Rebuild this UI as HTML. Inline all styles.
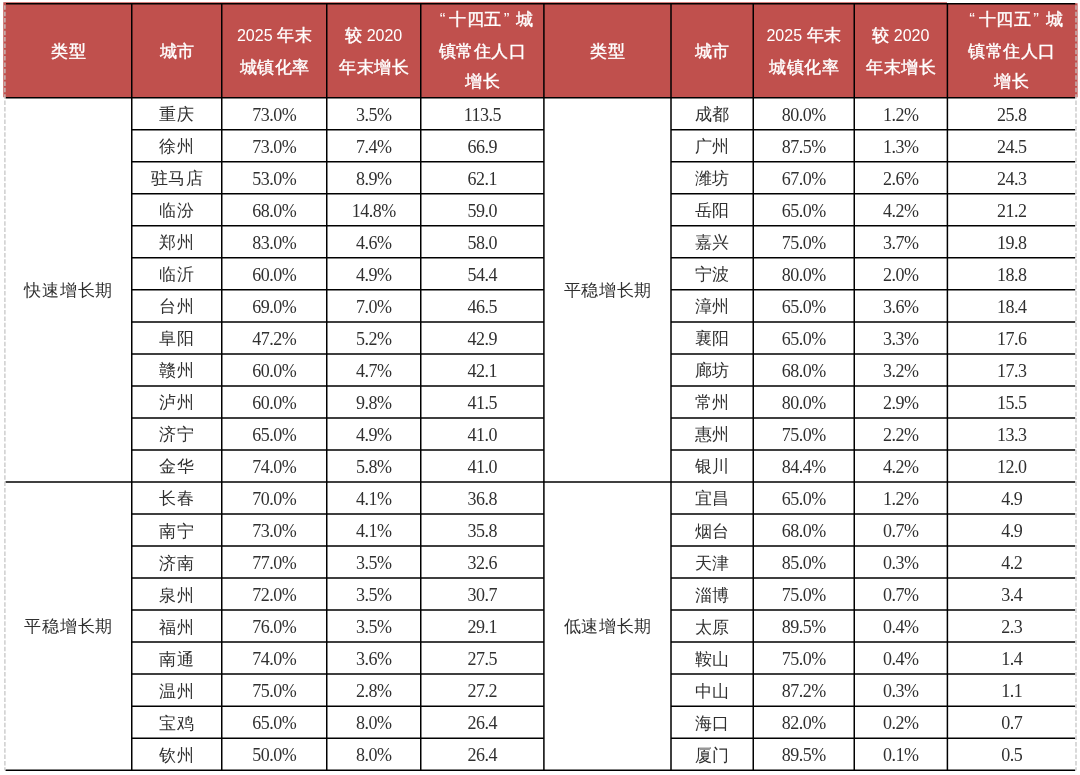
<!DOCTYPE html>
<html lang="zh"><head><meta charset="utf-8"><title>table</title>
<style>
html,body{margin:0;padding:0;background:#fff;}
body{width:1080px;height:775px;position:relative;overflow:hidden;font-family:"Liberation Serif",serif;color:#303030;}
#t{position:absolute;left:0;top:0;width:1080px;height:775px;will-change:transform;}
svg{position:absolute;left:0;top:0;}
.c{position:absolute;text-align:center;white-space:nowrap;height:32px;line-height:32px;font-size:18px;letter-spacing:-0.5px;}
.z{font-size:16.5px;letter-spacing:0.7px;text-indent:0.7px;}
.h{position:absolute;text-align:center;white-space:nowrap;height:32px;line-height:32px;font-size:16px;color:#fff;font-family:"Liberation Sans",sans-serif;}
.h b{font-weight:normal;font-size:17px;letter-spacing:0.5px;margin-right:-0.5px;-webkit-text-stroke:0.4px #fff;}
.h i{font-style:normal;display:inline-block;font-size:17px;}
.h i.l{width:8px;text-align:left;margin-right:1.5px;}
.h i.r{width:12.5px;text-align:left;margin-left:2.5px;}
</style></head><body>


<svg width="1080" height="775" viewBox="0 0 1080 775">
<path d="M3.3 2.3 H947 V3.2 H1077.6 V97.3 H3.3 Z" fill="#c0504d"/>
<g stroke="#000" stroke-width="1.5" fill="none">
<path d="M6 3.8 H1075.2"/>
<path d="M5.5 97.75 H1075.2"/>
<path d="M5.5 481.99 H1075.2"/>
<path d="M5.5 770.17 H1075.2"/>
<path d="M131.75 129.77 H543.9 M671 129.77 H1075.2 M131.75 161.79 H543.9 M671 161.79 H1075.2 M131.75 193.81 H543.9 M671 193.81 H1075.2 M131.75 225.83 H543.9 M671 225.83 H1075.2 M131.75 257.85 H543.9 M671 257.85 H1075.2 M131.75 289.87 H543.9 M671 289.87 H1075.2 M131.75 321.89 H543.9 M671 321.89 H1075.2 M131.75 353.91 H543.9 M671 353.91 H1075.2 M131.75 385.93 H543.9 M671 385.93 H1075.2 M131.75 417.95 H543.9 M671 417.95 H1075.2 M131.75 449.97 H543.9 M671 449.97 H1075.2 M131.75 514.01 H543.9 M671 514.01 H1075.2 M131.75 546.03 H543.9 M671 546.03 H1075.2 M131.75 578.05 H543.9 M671 578.05 H1075.2 M131.75 610.07 H543.9 M671 610.07 H1075.2 M131.75 642.09 H543.9 M671 642.09 H1075.2 M131.75 674.11 H543.9 M671 674.11 H1075.2 M131.75 706.13 H543.9 M671 706.13 H1075.2 M131.75 738.15 H543.9 M671 738.15 H1075.2"/>
<path d="M131.75 3.8 V770.17 M221.75 3.8 V770.17 M326.75 3.8 V770.17 M420.75 3.8 V770.17 M543.9 3.8 V770.17 M671 3.8 V770.17 M753.25 3.8 V770.17 M854.25 3.8 V770.17 M947.4 3.8 V770.17"/>
</g>
<g stroke="#c6c6c6" stroke-width="1.3" stroke-dasharray="4.5 1.85" stroke-dashoffset="-1.5" fill="none">
<path d="M4.9 3.8 V770.17 M1076 3.8 V770.17"/>
</g>
</svg>
<div id="t">
<div class="h" style="left:4.9px;top:36.4px;width:126.85px"><b>类型</b></div>
<div class="h" style="left:131.75px;top:36.4px;width:90px"><b>城市</b></div>
<div class="h" style="left:221.75px;top:20.4px;width:105px">2025 <b>年末</b></div>
<div class="h" style="left:221.75px;top:52px;width:105px"><b>城镇化率</b></div>
<div class="h" style="left:326.75px;top:20.4px;width:94px"><b>较</b> 2020</div>
<div class="h" style="left:326.75px;top:52px;width:94px"><b>年末增长</b></div>
<div class="h" style="left:424.95px;top:4.4px;width:123.15px"><i class="l">“</i><b>十四五</b><i class="r">”</i><b>城</b></div>
<div class="h" style="left:420.75px;top:35.6px;width:123.15px"><b>镇常住人口</b></div>
<div class="h" style="left:420.75px;top:66.4px;width:123.15px"><b>增长</b></div>
<div class="h" style="left:543.9px;top:36.4px;width:127.1px"><b>类型</b></div>
<div class="h" style="left:671px;top:36.4px;width:82.25px"><b>城市</b></div>
<div class="h" style="left:753.25px;top:20.4px;width:101px">2025 <b>年末</b></div>
<div class="h" style="left:753.25px;top:52px;width:101px"><b>城镇化率</b></div>
<div class="h" style="left:854.25px;top:20.4px;width:93.15px"><b>较</b> 2020</div>
<div class="h" style="left:854.25px;top:52px;width:93.15px"><b>年末增长</b></div>
<div class="h" style="left:951.6px;top:4.4px;width:128.6px"><i class="l">“</i><b>十四五</b><i class="r">”</i><b>城</b></div>
<div class="h" style="left:947.4px;top:35.6px;width:128.6px"><b>镇常住人口</b></div>
<div class="h" style="left:947.4px;top:66.4px;width:128.6px"><b>增长</b></div>
<div class="c z" style="left:4.9px;top:274.87px;width:126.85px">快速增长期</div>
<div class="c z" style="left:4.9px;top:611.08px;width:126.85px">平稳增长期</div>
<div class="c z" style="left:543.9px;top:274.87px;width:127.1px">平稳增长期</div>
<div class="c z" style="left:543.9px;top:611.08px;width:127.1px">低速增长期</div>
<div class="c z" style="left:131.75px;top:99.25px;width:90px">重庆</div>
<div class="c" style="left:221.75px;top:98.75px;width:105px">73.0%</div>
<div class="c" style="left:326.75px;top:98.75px;width:94px">3.5%</div>
<div class="c" style="left:420.75px;top:98.75px;width:123.15px">113.5</div>
<div class="c z" style="left:671px;top:99.25px;width:82.25px">成都</div>
<div class="c" style="left:753.25px;top:98.75px;width:101px">80.0%</div>
<div class="c" style="left:854.25px;top:98.75px;width:93.15px">1.2%</div>
<div class="c" style="left:947.4px;top:98.75px;width:128.6px">25.8</div>
<div class="c z" style="left:131.75px;top:131.27px;width:90px">徐州</div>
<div class="c" style="left:221.75px;top:130.77px;width:105px">73.0%</div>
<div class="c" style="left:326.75px;top:130.77px;width:94px">7.4%</div>
<div class="c" style="left:420.75px;top:130.77px;width:123.15px">66.9</div>
<div class="c z" style="left:671px;top:131.27px;width:82.25px">广州</div>
<div class="c" style="left:753.25px;top:130.77px;width:101px">87.5%</div>
<div class="c" style="left:854.25px;top:130.77px;width:93.15px">1.3%</div>
<div class="c" style="left:947.4px;top:130.77px;width:128.6px">24.5</div>
<div class="c z" style="left:131.75px;top:163.29px;width:90px">驻马店</div>
<div class="c" style="left:221.75px;top:162.79px;width:105px">53.0%</div>
<div class="c" style="left:326.75px;top:162.79px;width:94px">8.9%</div>
<div class="c" style="left:420.75px;top:162.79px;width:123.15px">62.1</div>
<div class="c z" style="left:671px;top:163.29px;width:82.25px">潍坊</div>
<div class="c" style="left:753.25px;top:162.79px;width:101px">67.0%</div>
<div class="c" style="left:854.25px;top:162.79px;width:93.15px">2.6%</div>
<div class="c" style="left:947.4px;top:162.79px;width:128.6px">24.3</div>
<div class="c z" style="left:131.75px;top:195.31px;width:90px">临汾</div>
<div class="c" style="left:221.75px;top:194.81px;width:105px">68.0%</div>
<div class="c" style="left:326.75px;top:194.81px;width:94px">14.8%</div>
<div class="c" style="left:420.75px;top:194.81px;width:123.15px">59.0</div>
<div class="c z" style="left:671px;top:195.31px;width:82.25px">岳阳</div>
<div class="c" style="left:753.25px;top:194.81px;width:101px">65.0%</div>
<div class="c" style="left:854.25px;top:194.81px;width:93.15px">4.2%</div>
<div class="c" style="left:947.4px;top:194.81px;width:128.6px">21.2</div>
<div class="c z" style="left:131.75px;top:227.33px;width:90px">郑州</div>
<div class="c" style="left:221.75px;top:226.83px;width:105px">83.0%</div>
<div class="c" style="left:326.75px;top:226.83px;width:94px">4.6%</div>
<div class="c" style="left:420.75px;top:226.83px;width:123.15px">58.0</div>
<div class="c z" style="left:671px;top:227.33px;width:82.25px">嘉兴</div>
<div class="c" style="left:753.25px;top:226.83px;width:101px">75.0%</div>
<div class="c" style="left:854.25px;top:226.83px;width:93.15px">3.7%</div>
<div class="c" style="left:947.4px;top:226.83px;width:128.6px">19.8</div>
<div class="c z" style="left:131.75px;top:259.35px;width:90px">临沂</div>
<div class="c" style="left:221.75px;top:258.85px;width:105px">60.0%</div>
<div class="c" style="left:326.75px;top:258.85px;width:94px">4.9%</div>
<div class="c" style="left:420.75px;top:258.85px;width:123.15px">54.4</div>
<div class="c z" style="left:671px;top:259.35px;width:82.25px">宁波</div>
<div class="c" style="left:753.25px;top:258.85px;width:101px">80.0%</div>
<div class="c" style="left:854.25px;top:258.85px;width:93.15px">2.0%</div>
<div class="c" style="left:947.4px;top:258.85px;width:128.6px">18.8</div>
<div class="c z" style="left:131.75px;top:291.37px;width:90px">台州</div>
<div class="c" style="left:221.75px;top:290.87px;width:105px">69.0%</div>
<div class="c" style="left:326.75px;top:290.87px;width:94px">7.0%</div>
<div class="c" style="left:420.75px;top:290.87px;width:123.15px">46.5</div>
<div class="c z" style="left:671px;top:291.37px;width:82.25px">漳州</div>
<div class="c" style="left:753.25px;top:290.87px;width:101px">65.0%</div>
<div class="c" style="left:854.25px;top:290.87px;width:93.15px">3.6%</div>
<div class="c" style="left:947.4px;top:290.87px;width:128.6px">18.4</div>
<div class="c z" style="left:131.75px;top:323.39px;width:90px">阜阳</div>
<div class="c" style="left:221.75px;top:322.89px;width:105px">47.2%</div>
<div class="c" style="left:326.75px;top:322.89px;width:94px">5.2%</div>
<div class="c" style="left:420.75px;top:322.89px;width:123.15px">42.9</div>
<div class="c z" style="left:671px;top:323.39px;width:82.25px">襄阳</div>
<div class="c" style="left:753.25px;top:322.89px;width:101px">65.0%</div>
<div class="c" style="left:854.25px;top:322.89px;width:93.15px">3.3%</div>
<div class="c" style="left:947.4px;top:322.89px;width:128.6px">17.6</div>
<div class="c z" style="left:131.75px;top:355.41px;width:90px">赣州</div>
<div class="c" style="left:221.75px;top:354.91px;width:105px">60.0%</div>
<div class="c" style="left:326.75px;top:354.91px;width:94px">4.7%</div>
<div class="c" style="left:420.75px;top:354.91px;width:123.15px">42.1</div>
<div class="c z" style="left:671px;top:355.41px;width:82.25px">廊坊</div>
<div class="c" style="left:753.25px;top:354.91px;width:101px">68.0%</div>
<div class="c" style="left:854.25px;top:354.91px;width:93.15px">3.2%</div>
<div class="c" style="left:947.4px;top:354.91px;width:128.6px">17.3</div>
<div class="c z" style="left:131.75px;top:387.43px;width:90px">泸州</div>
<div class="c" style="left:221.75px;top:386.93px;width:105px">60.0%</div>
<div class="c" style="left:326.75px;top:386.93px;width:94px">9.8%</div>
<div class="c" style="left:420.75px;top:386.93px;width:123.15px">41.5</div>
<div class="c z" style="left:671px;top:387.43px;width:82.25px">常州</div>
<div class="c" style="left:753.25px;top:386.93px;width:101px">80.0%</div>
<div class="c" style="left:854.25px;top:386.93px;width:93.15px">2.9%</div>
<div class="c" style="left:947.4px;top:386.93px;width:128.6px">15.5</div>
<div class="c z" style="left:131.75px;top:419.45px;width:90px">济宁</div>
<div class="c" style="left:221.75px;top:418.95px;width:105px">65.0%</div>
<div class="c" style="left:326.75px;top:418.95px;width:94px">4.9%</div>
<div class="c" style="left:420.75px;top:418.95px;width:123.15px">41.0</div>
<div class="c z" style="left:671px;top:419.45px;width:82.25px">惠州</div>
<div class="c" style="left:753.25px;top:418.95px;width:101px">75.0%</div>
<div class="c" style="left:854.25px;top:418.95px;width:93.15px">2.2%</div>
<div class="c" style="left:947.4px;top:418.95px;width:128.6px">13.3</div>
<div class="c z" style="left:131.75px;top:451.47px;width:90px">金华</div>
<div class="c" style="left:221.75px;top:450.97px;width:105px">74.0%</div>
<div class="c" style="left:326.75px;top:450.97px;width:94px">5.8%</div>
<div class="c" style="left:420.75px;top:450.97px;width:123.15px">41.0</div>
<div class="c z" style="left:671px;top:451.47px;width:82.25px">银川</div>
<div class="c" style="left:753.25px;top:450.97px;width:101px">84.4%</div>
<div class="c" style="left:854.25px;top:450.97px;width:93.15px">4.2%</div>
<div class="c" style="left:947.4px;top:450.97px;width:128.6px">12.0</div>
<div class="c z" style="left:131.75px;top:483.49px;width:90px">长春</div>
<div class="c" style="left:221.75px;top:482.99px;width:105px">70.0%</div>
<div class="c" style="left:326.75px;top:482.99px;width:94px">4.1%</div>
<div class="c" style="left:420.75px;top:482.99px;width:123.15px">36.8</div>
<div class="c z" style="left:671px;top:483.49px;width:82.25px">宜昌</div>
<div class="c" style="left:753.25px;top:482.99px;width:101px">65.0%</div>
<div class="c" style="left:854.25px;top:482.99px;width:93.15px">1.2%</div>
<div class="c" style="left:947.4px;top:482.99px;width:128.6px">4.9</div>
<div class="c z" style="left:131.75px;top:515.51px;width:90px">南宁</div>
<div class="c" style="left:221.75px;top:515.01px;width:105px">73.0%</div>
<div class="c" style="left:326.75px;top:515.01px;width:94px">4.1%</div>
<div class="c" style="left:420.75px;top:515.01px;width:123.15px">35.8</div>
<div class="c z" style="left:671px;top:515.51px;width:82.25px">烟台</div>
<div class="c" style="left:753.25px;top:515.01px;width:101px">68.0%</div>
<div class="c" style="left:854.25px;top:515.01px;width:93.15px">0.7%</div>
<div class="c" style="left:947.4px;top:515.01px;width:128.6px">4.9</div>
<div class="c z" style="left:131.75px;top:547.53px;width:90px">济南</div>
<div class="c" style="left:221.75px;top:547.03px;width:105px">77.0%</div>
<div class="c" style="left:326.75px;top:547.03px;width:94px">3.5%</div>
<div class="c" style="left:420.75px;top:547.03px;width:123.15px">32.6</div>
<div class="c z" style="left:671px;top:547.53px;width:82.25px">天津</div>
<div class="c" style="left:753.25px;top:547.03px;width:101px">85.0%</div>
<div class="c" style="left:854.25px;top:547.03px;width:93.15px">0.3%</div>
<div class="c" style="left:947.4px;top:547.03px;width:128.6px">4.2</div>
<div class="c z" style="left:131.75px;top:579.55px;width:90px">泉州</div>
<div class="c" style="left:221.75px;top:579.05px;width:105px">72.0%</div>
<div class="c" style="left:326.75px;top:579.05px;width:94px">3.5%</div>
<div class="c" style="left:420.75px;top:579.05px;width:123.15px">30.7</div>
<div class="c z" style="left:671px;top:579.55px;width:82.25px">淄博</div>
<div class="c" style="left:753.25px;top:579.05px;width:101px">75.0%</div>
<div class="c" style="left:854.25px;top:579.05px;width:93.15px">0.7%</div>
<div class="c" style="left:947.4px;top:579.05px;width:128.6px">3.4</div>
<div class="c z" style="left:131.75px;top:611.57px;width:90px">福州</div>
<div class="c" style="left:221.75px;top:611.07px;width:105px">76.0%</div>
<div class="c" style="left:326.75px;top:611.07px;width:94px">3.5%</div>
<div class="c" style="left:420.75px;top:611.07px;width:123.15px">29.1</div>
<div class="c z" style="left:671px;top:611.57px;width:82.25px">太原</div>
<div class="c" style="left:753.25px;top:611.07px;width:101px">89.5%</div>
<div class="c" style="left:854.25px;top:611.07px;width:93.15px">0.4%</div>
<div class="c" style="left:947.4px;top:611.07px;width:128.6px">2.3</div>
<div class="c z" style="left:131.75px;top:643.59px;width:90px">南通</div>
<div class="c" style="left:221.75px;top:643.09px;width:105px">74.0%</div>
<div class="c" style="left:326.75px;top:643.09px;width:94px">3.6%</div>
<div class="c" style="left:420.75px;top:643.09px;width:123.15px">27.5</div>
<div class="c z" style="left:671px;top:643.59px;width:82.25px">鞍山</div>
<div class="c" style="left:753.25px;top:643.09px;width:101px">75.0%</div>
<div class="c" style="left:854.25px;top:643.09px;width:93.15px">0.4%</div>
<div class="c" style="left:947.4px;top:643.09px;width:128.6px">1.4</div>
<div class="c z" style="left:131.75px;top:675.61px;width:90px">温州</div>
<div class="c" style="left:221.75px;top:675.11px;width:105px">75.0%</div>
<div class="c" style="left:326.75px;top:675.11px;width:94px">2.8%</div>
<div class="c" style="left:420.75px;top:675.11px;width:123.15px">27.2</div>
<div class="c z" style="left:671px;top:675.61px;width:82.25px">中山</div>
<div class="c" style="left:753.25px;top:675.11px;width:101px">87.2%</div>
<div class="c" style="left:854.25px;top:675.11px;width:93.15px">0.3%</div>
<div class="c" style="left:947.4px;top:675.11px;width:128.6px">1.1</div>
<div class="c z" style="left:131.75px;top:707.63px;width:90px">宝鸡</div>
<div class="c" style="left:221.75px;top:707.13px;width:105px">65.0%</div>
<div class="c" style="left:326.75px;top:707.13px;width:94px">8.0%</div>
<div class="c" style="left:420.75px;top:707.13px;width:123.15px">26.4</div>
<div class="c z" style="left:671px;top:707.63px;width:82.25px">海口</div>
<div class="c" style="left:753.25px;top:707.13px;width:101px">82.0%</div>
<div class="c" style="left:854.25px;top:707.13px;width:93.15px">0.2%</div>
<div class="c" style="left:947.4px;top:707.13px;width:128.6px">0.7</div>
<div class="c z" style="left:131.75px;top:739.65px;width:90px">钦州</div>
<div class="c" style="left:221.75px;top:739.15px;width:105px">50.0%</div>
<div class="c" style="left:326.75px;top:739.15px;width:94px">8.0%</div>
<div class="c" style="left:420.75px;top:739.15px;width:123.15px">26.4</div>
<div class="c z" style="left:671px;top:739.65px;width:82.25px">厦门</div>
<div class="c" style="left:753.25px;top:739.15px;width:101px">89.5%</div>
<div class="c" style="left:854.25px;top:739.15px;width:93.15px">0.1%</div>
<div class="c" style="left:947.4px;top:739.15px;width:128.6px">0.5</div>
</div>
</body></html>
